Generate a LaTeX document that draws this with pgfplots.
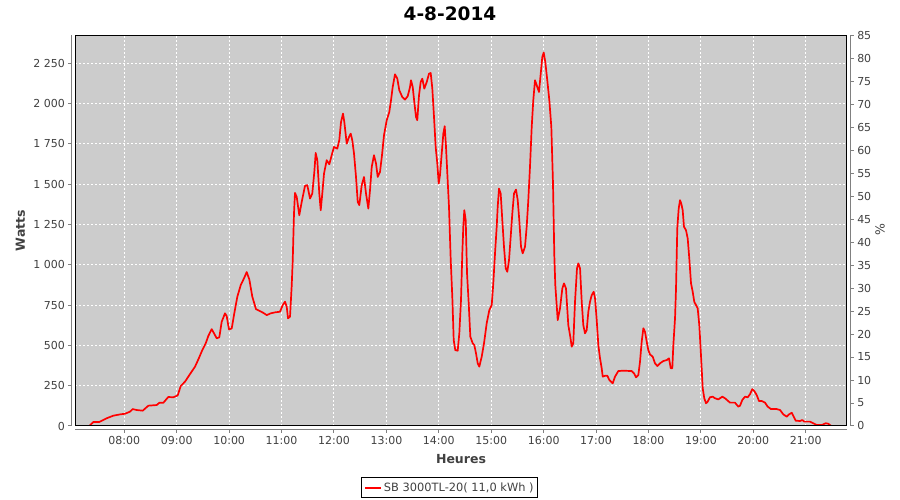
\documentclass[border=0pt]{standalone}
\usepackage{fontspec}
\setmainfont{DejaVu Sans}
\usepackage{pgfplots}
\pgfplotsset{compat=1.18}
\definecolor{bggray}{RGB}{204,204,204}
\definecolor{axgray}{RGB}{128,128,128}
\definecolor{txtgray}{RGB}{64,64,64}
\pgfplotstableread{
h w
7.332 0
7.409 25
7.523 25
7.664 48
7.790 64
7.918 72
8.013 76
8.109 89
8.160 105
8.237 99
8.351 95
8.458 126
8.618 130
8.668 144
8.744 144
8.839 180
8.935 178
9.019 190
9.076 248
9.158 275
9.253 322
9.349 368
9.412 413
9.488 471
9.553 513
9.602 558
9.667 601
9.711 575
9.763 544
9.812 550
9.858 647
9.921 699
9.953 682
9.997 599
10.049 605
10.098 699
10.156 802
10.221 874
10.283 916
10.335 955
10.385 909
10.442 802
10.512 725
10.652 702
10.717 688
10.793 699
10.875 705
10.970 709
11.022 750
11.066 771
11.098 740
11.123 668
11.161 678
11.193 868
11.213 1029
11.237 1318
11.256 1446
11.289 1421
11.338 1308
11.384 1390
11.447 1490
11.491 1494
11.543 1411
11.586 1442
11.625 1577
11.651 1694
11.682 1649
11.720 1442
11.747 1339
11.777 1442
11.810 1567
11.861 1649
11.911 1624
11.956 1680
12.000 1731
12.063 1721
12.101 1773
12.134 1886
12.172 1938
12.197 1886
12.243 1752
12.287 1793
12.319 1814
12.349 1773
12.382 1690
12.420 1545
12.453 1390
12.483 1370
12.529 1494
12.573 1545
12.611 1442
12.655 1349
12.687 1463
12.720 1607
12.763 1680
12.802 1628
12.834 1545
12.878 1577
12.916 1680
12.954 1804
13.006 1897
13.055 1948
13.088 2021
13.120 2103
13.164 2182
13.208 2155
13.246 2083
13.303 2041
13.355 2025
13.406 2046
13.450 2103
13.469 2145
13.502 2103
13.532 2010
13.565 1917
13.589 1897
13.622 2052
13.654 2134
13.685 2155
13.723 2093
13.769 2134
13.813 2186
13.845 2190
13.876 2093
13.908 1917
13.940 1731
13.971 1628
13.998 1504
14.022 1556
14.055 1690
14.086 1814
14.112 1860
14.137 1731
14.162 1567
14.194 1359
14.227 1029
14.257 802
14.284 533
14.314 471
14.360 467
14.391 575
14.423 781
14.448 1071
14.467 1236
14.486 1339
14.513 1277
14.538 947
14.570 761
14.601 554
14.646 513
14.677 502
14.709 451
14.742 389
14.772 368
14.818 430
14.862 513
14.913 637
14.963 719
15.009 750
15.039 885
15.072 1071
15.104 1236
15.123 1359
15.148 1473
15.180 1442
15.211 1277
15.243 1112
15.276 978
15.306 957
15.339 1029
15.371 1174
15.402 1318
15.434 1442
15.472 1467
15.505 1401
15.535 1277
15.568 1112
15.600 1071
15.644 1112
15.676 1236
15.707 1401
15.739 1607
15.772 1856
15.802 2021
15.835 2145
15.867 2114
15.911 2072
15.944 2186
15.974 2289
16.001 2317
16.031 2258
16.069 2145
16.108 2021
16.146 1856
16.178 1504
16.203 1060
16.222 874
16.268 657
16.312 730
16.356 853
16.388 885
16.426 853
16.470 626
16.508 554
16.535 492
16.565 513
16.598 771
16.636 978
16.661 1009
16.694 978
16.726 771
16.756 626
16.789 575
16.821 595
16.852 709
16.884 771
16.917 812
16.955 833
16.980 792
17.012 657
17.043 502
17.075 420
17.107 358
17.127 306
17.171 312
17.215 312
17.253 285
17.298 271
17.317 265
17.361 306
17.424 341
17.519 343
17.679 341
17.723 327
17.761 302
17.806 316
17.838 399
17.870 523
17.902 606
17.933 585
17.966 523
17.996 471
18.029 444
18.080 430
18.124 389
18.168 372
18.220 389
18.282 403
18.348 409
18.391 420
18.424 358
18.454 358
18.474 502
18.506 668
18.525 854
18.549 1226
18.576 1349
18.601 1401
18.625 1380
18.652 1339
18.677 1236
18.715 1215
18.748 1163
18.778 1040
18.811 885
18.843 833
18.873 771
18.906 750
18.938 730
18.969 626
19.001 440
19.034 234
19.064 172
19.097 141
19.129 151
19.172 178
19.224 182
19.269 172
19.332 165
19.408 182
19.459 172
19.555 145
19.650 145
19.713 120
19.746 126
19.789 161
19.841 182
19.892 178
19.936 197
19.980 229
20.018 217
20.064 192
20.108 155
20.160 155
20.222 145
20.274 120
20.337 105
20.446 105
20.509 99
20.572 72
20.636 58
20.680 72
20.732 82
20.770 58
20.808 33
20.890 31
20.934 37
20.972 27
21.081 27
21.144 17
21.209 6
21.304 6
21.381 17
21.430 14
21.462 6
21.481 2
}\powerdata
\begin{document}
\begin{tikzpicture}[x=1pt,y=1pt]
\useasboundingbox (0,0) rectangle (900,500);
\begin{axis}[
  at={(75.3pt,74pt)}, anchor=south west,
  scale only axis, width=771.4pt, height=390.7pt,
  xmin=7.065, xmax=21.781, ymin=0, ymax=2424,
  axis x line*=bottom, axis y line*=left,
  axis line shift=4pt,
  axis line style={-, draw=axgray, line width=1pt},
  tick align=outside, major tick length=3pt,
  tick style={draw=axgray, line width=1pt},
  xtick={8,...,21},
  xticklabels={08:00,09:00,10:00,11:00,12:00,13:00,14:00,15:00,16:00,17:00,18:00,19:00,20:00,21:00},
  ytick={0,250,...,2250},
  scaled y ticks=false,
  /pgf/number format/assume math mode=true,
  /pgf/number format/1000 sep={\ },
  ticklabel style={font=\fontsize{11}{13}\selectfont, text=txtgray},
  grid=major,
  major grid style={white, dash pattern=on 2pt off 2pt, line width=1pt},
  axis background/.style={fill=bggray},
  clip mode=individual,
  title={4-8-2014},
  title style={at={(axis description cs:0.4857,1.0391)}, anchor=center, yshift=0pt, font=\fontsize{18.5}{20}\selectfont\bfseries, text=black},
  xlabel={Heures}, ylabel={Watts},
  label style={font=\fontsize{12.5}{14}\selectfont\bfseries, text=txtgray},
  xlabel style={at={(axis description cs:0.5,-0.0852)}, anchor=center},
  ylabel style={at={(axis description cs:-0.0710,0.5)}, anchor=center},
  legend style={at={(axis description cs:0.4855,-0.1313)}, anchor=north, draw=black, line width=1pt,
    font=\fontsize{11.4}{13}\selectfont, text=txtgray, inner xsep=2pt, inner ysep=3pt,
    nodes={inner sep=2pt}},
  legend image code/.code={\draw[red, line width=2pt] (0pt,0pt) -- (16pt,0pt);},
]
\addplot[red, line width=1.7pt, line join=round, sharp plot] table[x=h, y=w] {\powerdata};
\addlegendentry{SB 3000TL-20( 11,0 kWh )}
\draw[black, line width=1pt] (rel axis cs:0,0) rectangle (rel axis cs:1,1);
\end{axis}
\begin{axis}[
  at={(75.3pt,74pt)}, anchor=south west,
  scale only axis, width=771.4pt, height=390.7pt,
  xmin=7.065, xmax=21.781, ymin=0, ymax=85,
  hide x axis,
  axis y line*=right,
  axis line shift=4pt,
  axis line style={-, draw=axgray, line width=1pt},
  tick align=outside, major tick length=3pt,
  tick style={draw=axgray, line width=1pt},
  ytick={0,5,...,85},
  /pgf/number format/assume math mode=true,
  ticklabel style={font=\fontsize{11}{13}\selectfont, text=txtgray},
  ylabel={\%},
  ylabel style={at={(axis description cs:1.0432,0.5017)}, anchor=center, font=\fontsize{12.5}{14}\selectfont, text=txtgray},
]
\end{axis}
\end{tikzpicture}
\end{document}
